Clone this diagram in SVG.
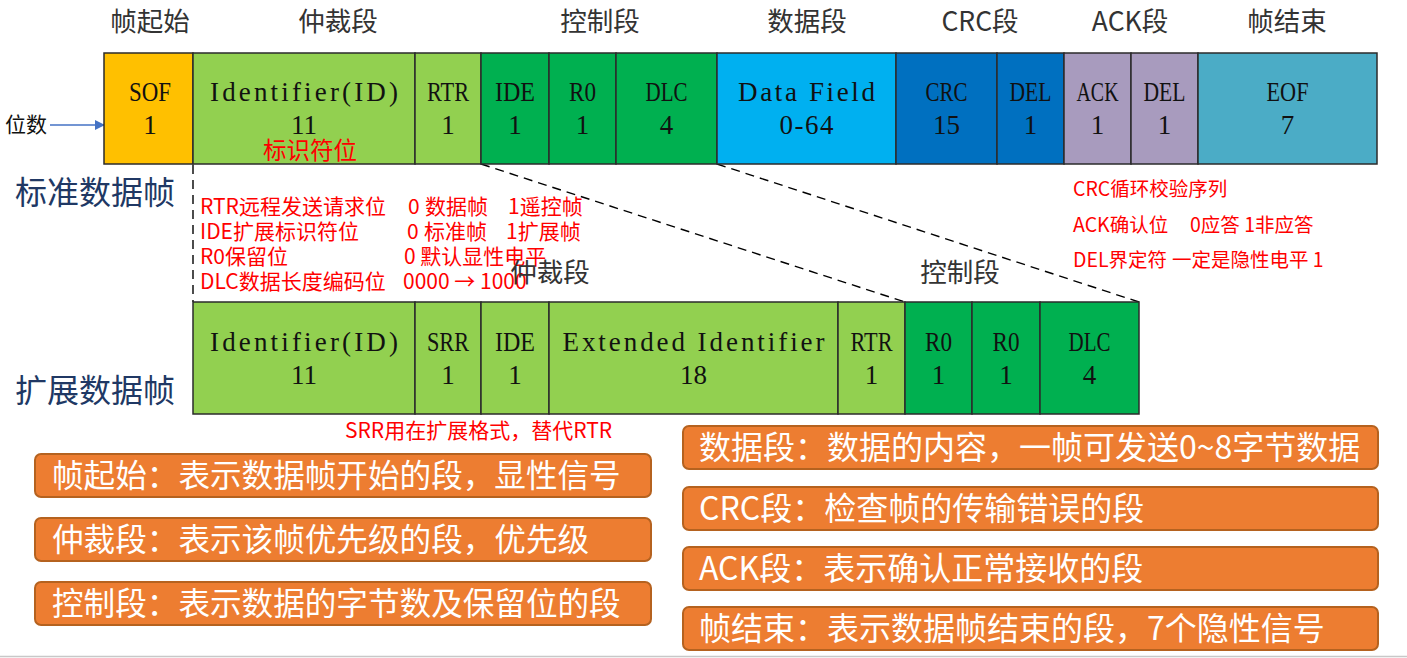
<svg xmlns="http://www.w3.org/2000/svg" width="1407" height="658" viewBox="0 0 1407 658">
<defs>
<style>
.cell{stroke:#2b2b2b;stroke-width:1.5}
.lg{fill:#92D050}.dg{fill:#00B050}
.cl{font-family:"Liberation Serif","Times New Roman",serif;font-size:27px;fill:#111;text-anchor:middle}
.hd{font-family:"Noto Sans CJK SC",sans-serif;font-size:26.5px;fill:#333;text-anchor:middle}
.red{font-family:"Noto Sans CJK SC",sans-serif;font-size:21px;fill:#FF0000}
.red2{font-family:"Noto Sans CJK SC",sans-serif;font-size:19.5px;fill:#FF0000}
.big{font-family:"Noto Sans CJK SC",sans-serif;font-size:32px;fill:#203864}
.box{fill:#ED7D31;stroke:#B5621F;stroke-width:2}
.bt{font-family:"Noto Sans CJK SC",sans-serif;font-size:31.6px;fill:#fff}
.bt2{font-family:"Noto Sans CJK SC",sans-serif;font-size:32px;fill:#fff}
.dash{stroke:#000;stroke-width:1.4;stroke-dasharray:9 6;fill:none}
</style>
<marker id="arr" markerWidth="10" markerHeight="10" refX="9" refY="5" orient="auto" markerUnits="userSpaceOnUse">
<path d="M0,0 L10,5 L0,10 z" fill="#4472C4"/>
</marker>
</defs>
<rect width="1407" height="658" fill="#fff"/>

<g id="headers">
<text class="hd" x="150" y="31">帧起始</text>
<text class="hd" x="338" y="31">仲裁段</text>
<text class="hd" x="600" y="31">控制段</text>
<text class="hd" x="807" y="31">数据段</text>
<text class="hd" x="980" y="31">CRC段</text>
<text class="hd" x="1130" y="31">ACK段</text>
<text class="hd" x="1287" y="31">帧结束</text>
</g>

<g id="connectors">
<line x1="50" y1="125" x2="104" y2="125" stroke="#4472C4" stroke-width="1.3" marker-end="url(#arr)"/>
<line class="dash" x1="193" y1="165" x2="193" y2="302"/>
<line class="dash" x1="481" y1="164" x2="905" y2="302"/>
<line class="dash" x1="717" y1="164" x2="1139" y2="302"/>
</g>

<text id="weishu" x="5" y="132" style="font-family:'Noto Sans CJK SC',sans-serif;font-size:21px;fill:#111">位数</text>

<g id="std-sof"><rect class="cell" x="104" y="53" width="89" height="111" fill="#FFC000"/>
<text class="cl" x="150" y="101" textLength="42" lengthAdjust="spacingAndGlyphs">SOF</text><text class="cl" x="150" y="134">1</text></g>
<g id="std-id"><rect class="cell lg" x="193" y="53" width="222" height="111"/>
<text class="cl" x="304" y="101" textLength="188" lengthAdjust="spacing">Identifier(ID)</text><text class="cl" x="304" y="134">11</text>
<text x="310" y="159" style="font-family:'Noto Sans CJK SC',sans-serif;font-size:23.5px;fill:#FF0000;text-anchor:middle">标识符位</text></g>
<g id="std-rtr"><rect class="cell lg" x="415" y="53" width="66" height="111"/>
<text class="cl" x="448" y="101" textLength="42" lengthAdjust="spacingAndGlyphs">RTR</text><text class="cl" x="448" y="134">1</text></g>
<g id="std-ide"><rect class="cell dg" x="481" y="53" width="68" height="111"/>
<text class="cl" x="515" y="101" textLength="40" lengthAdjust="spacingAndGlyphs">IDE</text><text class="cl" x="515" y="134">1</text></g>
<g id="std-r0"><rect class="cell dg" x="549" y="53" width="67" height="111"/>
<text class="cl" x="582.5" y="101" textLength="27" lengthAdjust="spacingAndGlyphs">R0</text><text class="cl" x="582.5" y="134">1</text></g>
<g id="std-dlc"><rect class="cell dg" x="616" y="53" width="101" height="111"/>
<text class="cl" x="666.5" y="101" textLength="42" lengthAdjust="spacingAndGlyphs">DLC</text><text class="cl" x="666.5" y="134">4</text></g>
<g id="std-data"><rect class="cell" x="717" y="53" width="179" height="111" fill="#00B0F0"/>
<text class="cl" x="806.5" y="101" textLength="137" lengthAdjust="spacing">Data Field</text><text class="cl" x="806.5" y="134" textLength="54" lengthAdjust="spacing">0-64</text></g>
<g id="std-crc"><rect class="cell" x="896" y="53" width="101" height="111" fill="#0070C0"/>
<text class="cl" x="946.5" y="101" textLength="42" lengthAdjust="spacingAndGlyphs">CRC</text><text class="cl" x="946.5" y="134">15</text></g>
<g id="std-del1"><rect class="cell" x="997" y="53" width="67" height="111" fill="#0070C0"/>
<text class="cl" x="1030.5" y="101" textLength="42" lengthAdjust="spacingAndGlyphs">DEL</text><text class="cl" x="1030.5" y="134">1</text></g>
<g id="std-ack"><rect class="cell" x="1064" y="53" width="67" height="111" fill="#A89BBE"/>
<text class="cl" x="1097.5" y="101" textLength="42" lengthAdjust="spacingAndGlyphs">ACK</text><text class="cl" x="1097.5" y="134">1</text></g>
<g id="std-del2"><rect class="cell" x="1131" y="53" width="67" height="111" fill="#A89BBE"/>
<text class="cl" x="1164.5" y="101" textLength="42" lengthAdjust="spacingAndGlyphs">DEL</text><text class="cl" x="1164.5" y="134">1</text></g>
<g id="std-eof"><rect class="cell" x="1198" y="53" width="179" height="111" fill="#4BACC6"/>
<text class="cl" x="1287.5" y="101" textLength="42" lengthAdjust="spacingAndGlyphs">EOF</text><text class="cl" x="1287.5" y="134">7</text></g>

<text id="label-std" class="big" x="15" y="204">标准数据帧</text>
<text id="label-ext" class="big" x="15" y="402">扩展数据帧</text>

<g id="notes-left" class="red">
<text x="200" y="214">RTR远程发送请求位</text><text x="408" y="214">0</text><text x="425" y="214">数据帧</text><text x="508" y="214">1遥控帧</text>
<text x="200" y="239">IDE扩展标识符位</text><text x="407" y="239">0</text><text x="424" y="239">标准帧</text><text x="506" y="239">1扩展帧</text>
<text x="200" y="264">R0保留位</text><text x="404" y="264">0 默认显性电平</text>
<text x="200" y="289">DLC数据长度编码位</text><text x="403" y="289">0000 → 1000</text>
</g>
<g id="notes-right" class="red2">
<text x="1073" y="196">CRC循环校验序列</text>
<text x="1073" y="232">ACK确认位</text><text x="1190" y="232">0应答 1非应答</text>
<text x="1073" y="267">DEL界定符</text><text x="1172" y="267">一定是隐性电平 1</text>
</g>
<text id="sub-arb" class="hd" x="550" y="282">仲裁段</text>
<text id="sub-ctl" class="hd" x="960" y="282">控制段</text>

<g id="ext-id"><rect class="cell lg" x="193" y="302" width="222" height="112"/>
<text class="cl" x="304" y="351" textLength="188" lengthAdjust="spacing">Identifier(ID)</text><text class="cl" x="304" y="384">11</text></g>
<g id="ext-srr"><rect class="cell lg" x="415" y="302" width="66" height="112"/>
<text class="cl" x="448" y="351" textLength="42" lengthAdjust="spacingAndGlyphs">SRR</text><text class="cl" x="448" y="384">1</text></g>
<g id="ext-ide"><rect class="cell lg" x="481" y="302" width="68" height="112"/>
<text class="cl" x="515" y="351" textLength="40" lengthAdjust="spacingAndGlyphs">IDE</text><text class="cl" x="515" y="384">1</text></g>
<g id="ext-eid"><rect class="cell lg" x="549" y="302" width="289" height="112"/>
<text class="cl" x="693.5" y="351" textLength="262" lengthAdjust="spacing">Extended Identifier</text><text class="cl" x="693.5" y="384">18</text></g>
<g id="ext-rtr"><rect class="cell lg" x="838" y="302" width="67" height="112"/>
<text class="cl" x="871.5" y="351" textLength="42" lengthAdjust="spacingAndGlyphs">RTR</text><text class="cl" x="871.5" y="384">1</text></g>
<g id="ext-r0a"><rect class="cell dg" x="905" y="302" width="67" height="112"/>
<text class="cl" x="938.5" y="351" textLength="27" lengthAdjust="spacingAndGlyphs">R0</text><text class="cl" x="938.5" y="384">1</text></g>
<g id="ext-r0b"><rect class="cell dg" x="972" y="302" width="68" height="112"/>
<text class="cl" x="1006" y="351" textLength="27" lengthAdjust="spacingAndGlyphs">R0</text><text class="cl" x="1006" y="384">1</text></g>
<g id="ext-dlc"><rect class="cell dg" x="1040" y="302" width="99" height="112"/>
<text class="cl" x="1089.5" y="351" textLength="42" lengthAdjust="spacingAndGlyphs">DLC</text><text class="cl" x="1089.5" y="384">4</text></g>

<text id="srr-note" class="red" x="345" y="438">SRR用在扩展格式，替代RTR</text>

<g id="desc-sof"><rect class="box" x="35" y="454" width="616" height="43" rx="6"/><text class="bt" x="52" y="487">帧起始：表示数据帧开始的段，显性信号</text></g>
<g id="desc-arb"><rect class="box" x="35" y="518" width="616" height="43" rx="6"/><text class="bt" x="52" y="551">仲裁段：表示该帧优先级的段，优先级</text></g>
<g id="desc-ctl"><rect class="box" x="35" y="582" width="616" height="43" rx="6"/><text class="bt" x="52" y="615">控制段：表示数据的字节数及保留位的段</text></g>
<g id="desc-data"><rect class="box" x="683" y="426" width="695" height="43" rx="6"/><text class="bt2" x="699" y="459">数据段：数据的内容，一帧可发送0~8字节数据</text></g>
<g id="desc-crc"><rect class="box" x="683" y="487" width="695" height="43" rx="6"/><text class="bt2" x="699" y="520">CRC段：检查帧的传输错误的段</text></g>
<g id="desc-ack"><rect class="box" x="683" y="547" width="695" height="43" rx="6"/><text class="bt2" x="699" y="580">ACK段：表示确认正常接收的段</text></g>
<g id="desc-eof"><rect class="box" x="683" y="607" width="695" height="43" rx="6"/><text class="bt2" x="699" y="640">帧结束：表示数据帧结束的段，7个隐性信号</text></g>

<line x1="0" y1="656.5" x2="1407" y2="656.5" stroke="#c8c8c8" stroke-width="1.5"/>
</svg>
